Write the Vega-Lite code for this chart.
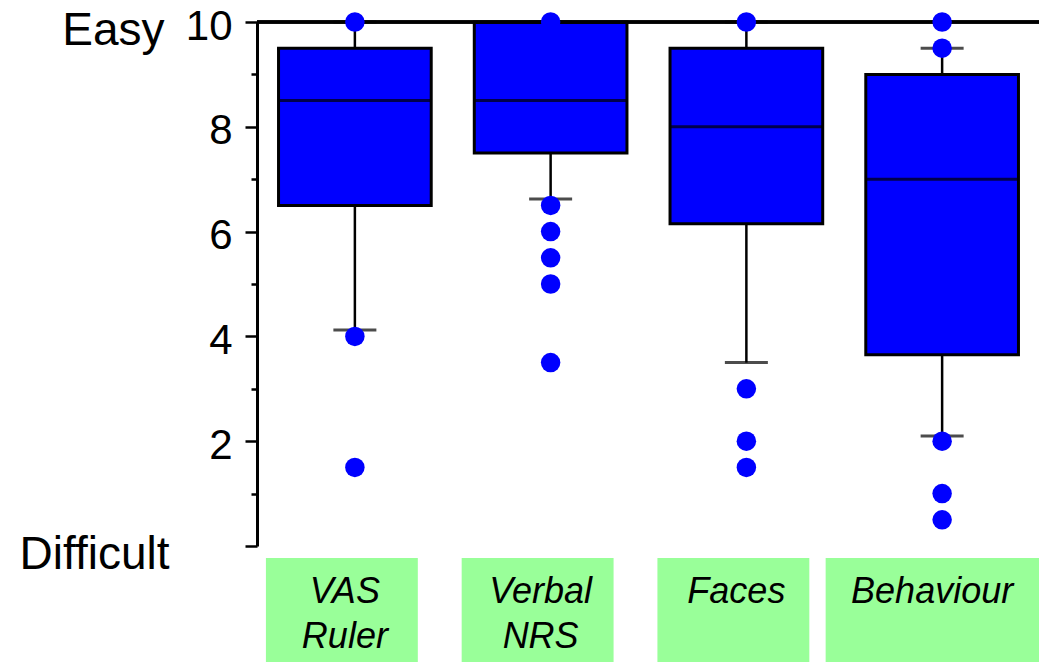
{
  "$schema": "https://vega.github.io/schema/vega-lite/v6.json",
  "padding": {"left": 19, "top": 5, "right": 0, "bottom": 0},
  "background": "white",
  "config": {"font": "Liberation Sans", "view": {"stroke": null}, "axis": {"grid": false}},
  "datasets": {
    "stats": [
      {"cat": "VAS Ruler", "lower": 4.12, "q1": 6.5, "median": 8.5, "q3": 9.5, "upper": 10},
      {"cat": "Verbal NRS", "lower": 6.62, "q1": 7.5, "median": 8.5, "q3": 10, "upper": 10},
      {"cat": "Faces", "lower": 3.5, "q1": 6.15, "median": 8.0, "q3": 9.5, "upper": 10},
      {"cat": "Behaviour", "lower": 2.1, "q1": 3.65, "median": 7.0, "q3": 9.0, "upper": 9.5}
    ],
    "outliers": [
      {"cat": "VAS Ruler", "value": 10},
      {"cat": "VAS Ruler", "value": 4.0},
      {"cat": "VAS Ruler", "value": 1.5},
      {"cat": "Verbal NRS", "value": 10},
      {"cat": "Verbal NRS", "value": 6.5},
      {"cat": "Verbal NRS", "value": 6.0},
      {"cat": "Verbal NRS", "value": 5.5},
      {"cat": "Verbal NRS", "value": 5.0},
      {"cat": "Verbal NRS", "value": 3.5},
      {"cat": "Faces", "value": 10},
      {"cat": "Faces", "value": 3.0},
      {"cat": "Faces", "value": 2.0},
      {"cat": "Faces", "value": 1.5},
      {"cat": "Behaviour", "value": 10},
      {"cat": "Behaviour", "value": 9.5},
      {"cat": "Behaviour", "value": 2.0},
      {"cat": "Behaviour", "value": 1.0},
      {"cat": "Behaviour", "value": 0.5}
    ],
    "labels": [
      {"cat": "VAS Ruler", "label": "VAS\nRuler"},
      {"cat": "Verbal NRS", "label": "Verbal\nNRS"},
      {"cat": "Faces", "label": "Faces"},
      {"cat": "Behaviour", "label": "Behaviour"}
    ]
  },
  "spacing": 12,
  "bounds": "flush",
  "vconcat": [
    {
      "width": 783,
      "height": 524,
      "resolve": {"axis": {"y": "independent"}},
      "layer": [
        {
          "data": {"name": "stats"},
          "mark": {"type": "rule", "color": "black", "strokeWidth": 2.5},
          "encoding": {
            "x": {"field": "cat", "type": "nominal", "sort": null,
              "scale": {"domain": ["VAS Ruler", "Verbal NRS", "Faces", "Behaviour"], "paddingInner": 0, "paddingOuter": 0},
              "axis": {"title": null, "labels": false, "tickSize": 6, "tickWidth": 2.5, "tickColor": "black", "domainColor": "black", "domainWidth": 3, "orient": "bottom"}},
            "y": {"field": "lower", "type": "quantitative",
              "scale": {"domain": [0, 10], "nice": false, "zero": false},
              "axis": {"orient": "left", "values": [0, 1, 2, 3, 4, 5, 6, 7, 8, 9, 10],
                "labelExpr": "datum.value > 0 && datum.value % 2 == 0 ? datum.label : ''",
                "title": null, "domainColor": "black", "domainWidth": 3, "tickColor": "black", "tickWidth": 2.5,
                "tickSize": {"condition": {"test": "datum.value % 2 == 1", "value": 6}, "value": 12},
                "labelFontSize": 42, "labelColor": "black", "labelPadding": 13, "labelOffset": 4,
                "labelOverlap": false, "labelFlush": false, "labelBound": false, "grid": false}},
            "y2": {"field": "q1"}
          }
        },
        {
          "data": {"name": "stats"},
          "mark": {"type": "rule", "color": "black", "strokeWidth": 2.5},
          "encoding": {
            "x": {"field": "cat", "type": "nominal", "sort": null, "axis": null},
            "y": {"field": "q3", "type": "quantitative", "axis": null},
            "y2": {"field": "upper"}
          }
        },
        {
          "data": {"name": "stats"},
          "mark": {"type": "bar", "color": "#0000FF", "stroke": "black", "strokeWidth": 3, "width": {"band": 0.78}},
          "encoding": {
            "x": {"field": "cat", "type": "nominal", "sort": null, "axis": null},
            "y": {"field": "q1", "type": "quantitative", "axis": null},
            "y2": {"field": "q3"}
          }
        },
        {
          "data": {"name": "stats"},
          "mark": {"type": "tick", "color": "black", "size": 153, "thickness": 3},
          "encoding": {
            "x": {"field": "cat", "type": "nominal", "sort": null, "axis": null},
            "y": {"field": "median", "type": "quantitative",
              "axis": {"orient": "left", "values": [0, 10],
                "labelExpr": "datum.value == 10 ? 'Easy' : 'Difficult'",
                "title": null, "domain": false, "ticks": false,
                "labelFontSize": 46, "labelColor": "black",
                "labelPadding": {"condition": {"test": "datum.value == 10", "value": 93}, "value": 88},
                "labelOffset": 8,
                "labelOverlap": false, "labelFlush": false, "labelBound": false, "grid": false}}
          }
        },
        {
          "data": {"name": "stats"},
          "mark": {"type": "tick", "color": "black", "size": 43, "thickness": 3},
          "encoding": {
            "x": {"field": "cat", "type": "nominal", "sort": null, "axis": null},
            "y": {"field": "lower", "type": "quantitative", "axis": null}
          }
        },
        {
          "data": {"name": "stats"},
          "mark": {"type": "tick", "color": "black", "size": 43, "thickness": 3},
          "encoding": {
            "x": {"field": "cat", "type": "nominal", "sort": null, "axis": null},
            "y": {"field": "upper", "type": "quantitative", "axis": null}
          }
        },
        {
          "data": {"name": "stats"},
          "mark": {"type": "rule", "color": "black", "strokeWidth": 3},
          "encoding": {
            "y": {"datum": 10, "type": "quantitative", "axis": null}
          }
        },
        {
          "data": {"name": "outliers"},
          "mark": {"type": "circle", "color": "#0000FF", "opacity": 1, "size": 380},
          "encoding": {
            "x": {"field": "cat", "type": "nominal", "sort": null, "axis": null},
            "y": {"field": "value", "type": "quantitative", "axis": null}
          }
        }
      ]
    },
    {
      "width": 783,
      "height": 104,
      "data": {"name": "labels"},
      "layer": [
        {
          "transform": [{"filter": "datum.cat != 'Behaviour'"}],
          "mark": {"type": "rect", "color": "#99FF99", "width": {"band": 0.776}, "xOffset": -13},
          "encoding": {
            "x": {"field": "cat", "type": "nominal", "sort": null,
              "scale": {"domain": ["VAS Ruler", "Verbal NRS", "Faces", "Behaviour"], "paddingInner": 0, "paddingOuter": 0},
              "axis": null}
          }
        },
        {
          "transform": [{"filter": "datum.cat == 'Behaviour'"}],
          "mark": {"type": "rect", "color": "#99FF99", "width": {"band": 1.19}, "xOffset": 0, "clip": true},
          "encoding": {
            "x": {"field": "cat", "type": "nominal", "sort": null, "axis": null}
          }
        },
        {
          "mark": {"type": "text", "fontSize": 36, "fontStyle": "italic", "lineBreak": "\n", "lineHeight": 45, "baseline": "alphabetic", "align": "center", "dy": -7, "dx": -10, "color": "black"},
          "encoding": {
            "x": {"field": "cat", "type": "nominal", "sort": null, "axis": null},
            "text": {"field": "label"}
          }
        }
      ]
    }
  ]
}
